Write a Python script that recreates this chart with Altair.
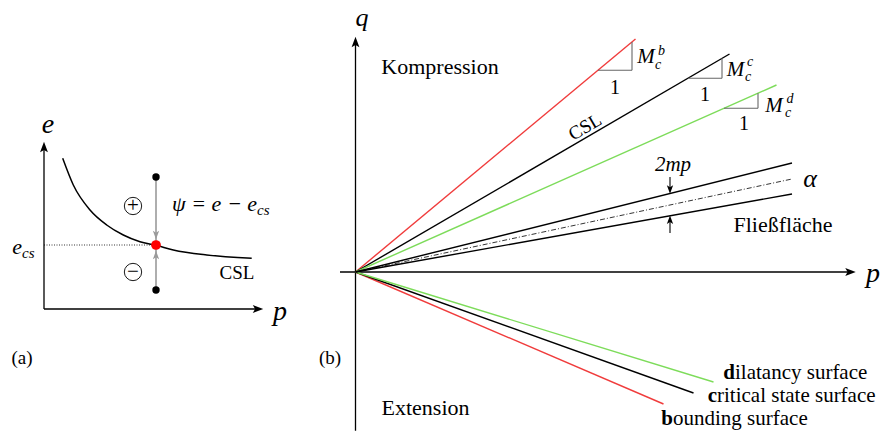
import altair as alt
import pandas as pd

FONT = "Liberation Serif"
RED = "#f03c3c"
GREEN = "#7ddc5a"
GRAY_TRI = "#666666"
GRAY_ARR = "#9a9a9a"

# ================= panel (a): e - p diagram (units: origin at axis crossing) =================
a_xdomain = [-0.44, 2.56]
a_ydomain = [-1.23, 3.09]
a_p_axis_end = 2.19
a_e_axis_end = 1.67

# critical state line
csl_p = [0.187, 0.293, 0.46, 0.627, 0.793, 0.96, 1.12, 1.293, 1.627, 2.077]
csl_e = [1.507, 1.24, 0.99, 0.84, 0.74, 0.673, 0.637, 0.59, 0.54, 0.507]

state_p = 1.12
e_cs = 0.64
e_upper = 1.32
e_lower = 0.19

# ================= panel (b): q - p diagram =================
b_xdomain = [-0.555, 5.345]
b_ydomain = [-1.60, 2.72]
b_p_axis = [-0.155, 5.0]
b_q_axis = [-1.587, 2.35]

# compression lines (end points)
comp_name = ["bounding", "critical", "dilatancy"]
comp_p_end = [2.80, 3.74, 4.21]
comp_q_end = [2.33, 2.18, 1.87]
comp_color = [RED, "#000000", GREEN]
# extension lines (end points)
ext_p_end = [3.08, 3.38, 3.58]
ext_q_end = [-1.32, -1.21, -1.10]
ext_color = [RED, "#000000", GREEN]

# yield surface (Fliessflaeche) lines
yield_p_end = [4.365, 4.365]
yield_q_end = [1.09, 0.78]
alpha_p_end = 4.365
alpha_q_end = 0.93

# slope triangles: start p of the horizontal leg, leg length 0.34
tri_p_start = [2.425, 3.325, 3.685]
tri_len = 0.34

# 2mp arrows
mp_p = 3.145

# ---------------------------------------------------------------
def sc(d):
    return alt.Scale(domain=d, nice=False, zero=False)


def rules(df, xd, yd, **kw):
    enc = dict(
        x=alt.X("x0:Q", scale=sc(xd), axis=None),
        y=alt.Y("y0:Q", scale=sc(yd), axis=None),
        x2="x1:Q",
        y2="y1:Q",
    )
    if "c" in df.columns:
        enc["color"] = alt.Color("c:N", scale=None)
    return alt.Chart(df).mark_rule(**kw).encode(**enc)


def texts(df, xd, yd, **kw):
    return alt.Chart(df).mark_text(font=FONT, baseline="middle", **kw).encode(
        x=alt.X("x:Q", scale=sc(xd), axis=None),
        y=alt.Y("y:Q", scale=sc(yd), axis=None),
        text="t:N",
        size=alt.Size("s:Q", scale=None),
    )


def points(df, xd, yd, **kw):
    return alt.Chart(df).mark_point(**kw).encode(
        x=alt.X("x:Q", scale=sc(xd), axis=None),
        y=alt.Y("y:Q", scale=sc(yd), axis=None),
    )


ARROW_R = "M1,0 L-1,-0.75 L-0.55,0 L-1,0.75 Z"
ARROW_U = "M0,-1 L-0.75,1 L0,0.55 L0.75,1 Z"
ARROW_D = "M0,1 L-0.75,-1 L0,-0.55 L0.75,-1 Z"

# ---------------- panel (a) layers ----------------
XA, YA = a_xdomain, a_ydomain
a_axes = rules(pd.DataFrame({"x0": [0, 0], "y0": [0, 0],
                             "x1": [a_p_axis_end - 0.04, 0], "y1": [0, a_e_axis_end - 0.04]}),
               XA, YA, color="black", strokeWidth=1.3)
a_arrows = alt.layer(
    points(pd.DataFrame({"x": [a_p_axis_end - 0.05], "y": [0]}), XA, YA,
           shape=ARROW_R, size=110, filled=True, color="black", opacity=1),
    points(pd.DataFrame({"x": [0], "y": [a_e_axis_end - 0.05]}), XA, YA,
           shape=ARROW_U, size=110, filled=True, color="black", opacity=1),
)
a_curve = alt.Chart(pd.DataFrame({"p": csl_p, "e": csl_e})).mark_line(
    color="black", strokeWidth=1.5, interpolate="monotone").encode(
    x=alt.X("p:Q", scale=sc(XA), axis=None), y=alt.Y("e:Q", scale=sc(YA), axis=None), order="p:Q")
a_dotted = rules(pd.DataFrame({"x0": [0], "y0": [e_cs], "x1": [state_p], "y1": [e_cs]}),
                 XA, YA, color="black", strokeWidth=0.8, strokeDash=[1, 1.5])
a_gray = rules(pd.DataFrame({"x0": [state_p], "y0": [e_upper], "x1": [state_p], "y1": [e_lower]}),
               XA, YA, color=GRAY_ARR, strokeWidth=1.6)
a_gray_arrows = alt.layer(
    points(pd.DataFrame({"x": [state_p], "y": [e_cs + 0.10]}), XA, YA,
           shape=ARROW_D, size=70, filled=True, color=GRAY_ARR, opacity=1),
    points(pd.DataFrame({"x": [state_p], "y": [e_cs - 0.10]}), XA, YA,
           shape=ARROW_U, size=70, filled=True, color=GRAY_ARR, opacity=1),
)
a_dots = points(pd.DataFrame({"x": [state_p, state_p], "y": [e_upper, e_lower]}), XA, YA,
                shape="circle", size=55, filled=True, color="black", opacity=1)
a_red = points(pd.DataFrame({"x": [state_p], "y": [e_cs]}), XA, YA,
               shape="circle", size=95, filled=True, color="#ff0000", opacity=1)
a_circles = points(pd.DataFrame({"x": [0.89, 0.89], "y": [1.03, 0.37]}), XA, YA,
                   shape="circle", size=300, filled=False, color="black", strokeWidth=0.9, opacity=1)
a_pm = texts(pd.DataFrame({"x": [0.89, 0.89], "y": [1.035, 0.375], "t": ["+", "\u2212"], "s": [21, 21]}),
             XA, YA, align="center")
a_it_c = texts(pd.DataFrame({"x": [0.04, 2.36], "y": [1.84, -0.03], "t": ["e", "p"], "s": [28, 28]}),
               XA, YA, align="center", fontStyle="italic")
a_it_r = texts(pd.DataFrame({"x": [-0.22, 2.13], "y": [0.62, 1.05],
                             "t": ["e", "\u03c8 = e \u2212 e"], "s": [22, 22]}),
               XA, YA, align="right", fontStyle="italic")
a_sub = texts(pd.DataFrame({"x": [-0.22, 2.13], "y": [0.56, 0.99], "t": ["cs", "cs"], "s": [15, 15]}),
              XA, YA, align="left", fontStyle="italic")
a_reg = texts(pd.DataFrame({"x": [1.93, -0.22], "y": [0.36, -0.49], "t": ["CSL", "(a)"], "s": [19, 19]}),
              XA, YA, align="center")

left = alt.layer(a_axes, a_arrows, a_dotted, a_curve, a_gray, a_gray_arrows, a_dots, a_red,
                 a_circles, a_pm, a_it_c, a_it_r, a_sub, a_reg).properties(width=300, height=432)

# ---------------- panel (b) layers ----------------
XB, YB = b_xdomain, b_ydomain
b_axes = rules(pd.DataFrame({"x0": [b_p_axis[0], 0], "y0": [0, b_q_axis[0]],
                             "x1": [b_p_axis[1] - 0.04, 0], "y1": [0, b_q_axis[1] - 0.04]}),
               XB, YB, color="black", strokeWidth=1.3)
b_arrows = alt.layer(
    points(pd.DataFrame({"x": [b_p_axis[1] - 0.05], "y": [0]}), XB, YB,
           shape=ARROW_R, size=110, filled=True, color="black", opacity=1),
    points(pd.DataFrame({"x": [0], "y": [b_q_axis[1] - 0.05]}), XB, YB,
           shape=ARROW_U, size=110, filled=True, color="black", opacity=1),
)
b_lines = rules(pd.DataFrame({"x0": [0] * 6, "y0": [0] * 6,
                              "x1": comp_p_end + ext_p_end, "y1": comp_q_end + ext_q_end,
                              "c": comp_color + ext_color}), XB, YB, strokeWidth=1.4)
b_yield = rules(pd.DataFrame({"x0": [0, 0], "y0": [0, 0], "x1": yield_p_end, "y1": yield_q_end}),
                XB, YB, color="black", strokeWidth=1.4)
b_alpha = rules(pd.DataFrame({"x0": [0], "y0": [0], "x1": [alpha_p_end], "y1": [alpha_q_end]}),
                XB, YB, color="black", strokeWidth=0.8, strokeDash=[5, 2, 1, 2])

slopes = [q / p for p, q in zip(comp_p_end, comp_q_end)]
tri_x0, tri_y0, tri_x1, tri_y1 = [], [], [], []
for p0, m in zip(tri_p_start, slopes):
    base = p0 * m
    tri_x0 += [p0, p0 + tri_len]
    tri_y0 += [base, base]
    tri_x1 += [p0 + tri_len, p0 + tri_len]
    tri_y1 += [base, (p0 + tri_len) * m]
b_tri = rules(pd.DataFrame({"x0": tri_x0, "y0": tri_y0, "x1": tri_x1, "y1": tri_y1}),
              XB, YB, color=GRAY_TRI, strokeWidth=1.1)

up_slope = yield_q_end[0] / yield_p_end[0]
lo_slope = yield_q_end[1] / yield_p_end[1]
b_mp = rules(pd.DataFrame({"x0": [mp_p, mp_p], "y0": [0.95, 0.39],
                           "x1": [mp_p, mp_p], "y1": [mp_p * up_slope + 0.03, mp_p * lo_slope - 0.03]}),
             XB, YB, color="black", strokeWidth=1.1)
b_mp_arrows = alt.layer(
    points(pd.DataFrame({"x": [mp_p], "y": [mp_p * up_slope + 0.04]}), XB, YB,
           shape=ARROW_D, size=70, filled=True, color="black", opacity=1),
    points(pd.DataFrame({"x": [mp_p], "y": [mp_p * lo_slope - 0.04]}), XB, YB,
           shape=ARROW_U, size=70, filled=True, color="black", opacity=1),
)

b_it = texts(pd.DataFrame({
    "x": [0.065, 5.175, 2.905, 3.80, 4.185, 3.175, 4.545],
    "y": [2.54, -0.02, 2.15, 2.02, 1.66, 1.07, 0.93],
    "t": ["q", "p", "M", "M", "M", "2mp", "\u03b1"],
    "s": [26, 28, 21, 21, 21, 21, 26]}), XB, YB, align="center", fontStyle="italic")
b_sup = texts(pd.DataFrame({
    "x": [3.06, 3.025, 3.945, 3.925, 4.345, 4.325],
    "y": [2.21, 2.07, 2.10, 1.95, 1.73, 1.59],
    "t": ["b", "c", "c", "c", "d", "c"],
    "s": [14, 14, 14, 14, 14, 14]}), XB, YB, align="center", fontStyle="italic")
b_reg = texts(pd.DataFrame({
    "x": [2.595, 3.495, 3.885, 0.845, 0.70, 4.275, -0.255],
    "y": [1.84, 1.77, 1.48, 2.05, -1.36, 0.47, -0.86],
    "t": ["1", "1", "1", "Kompression", "Extension", "Flie\u00dffl\u00e4che", "(b)"],
    "s": [20, 20, 20, 22, 22, 22, 19]}), XB, YB, align="center")
b_csl = texts(pd.DataFrame({"x": [2.295], "y": [1.45], "t": ["CSL"], "s": [19]}),
              XB, YB, align="center", angle=330)

surf_x = [3.795, 3.615, 3.175]
surf_y = [-1.005, -1.235, -1.47]
b_bold = texts(pd.DataFrame({"x": surf_x, "y": surf_y, "t": ["d", "c", "b"], "s": [21, 21, 21]}),
               XB, YB, align="right", fontWeight="bold")
b_rest = texts(pd.DataFrame({"x": surf_x, "y": surf_y,
                             "t": ["ilatancy surface", "ritical state surface", "ounding surface"],
                             "s": [21, 21, 21]}), XB, YB, align="left")

right = alt.layer(b_axes, b_arrows, b_lines, b_yield, b_alpha, b_tri, b_mp, b_mp_arrows,
                  b_it, b_sup, b_reg, b_csl, b_bold, b_rest).properties(width=590, height=432)

chart = alt.hconcat(left, right, spacing=0).properties(padding=0).configure_view(strokeWidth=0)
chart.save("out.html", embed_options={"renderer": "svg", "actions": False})
